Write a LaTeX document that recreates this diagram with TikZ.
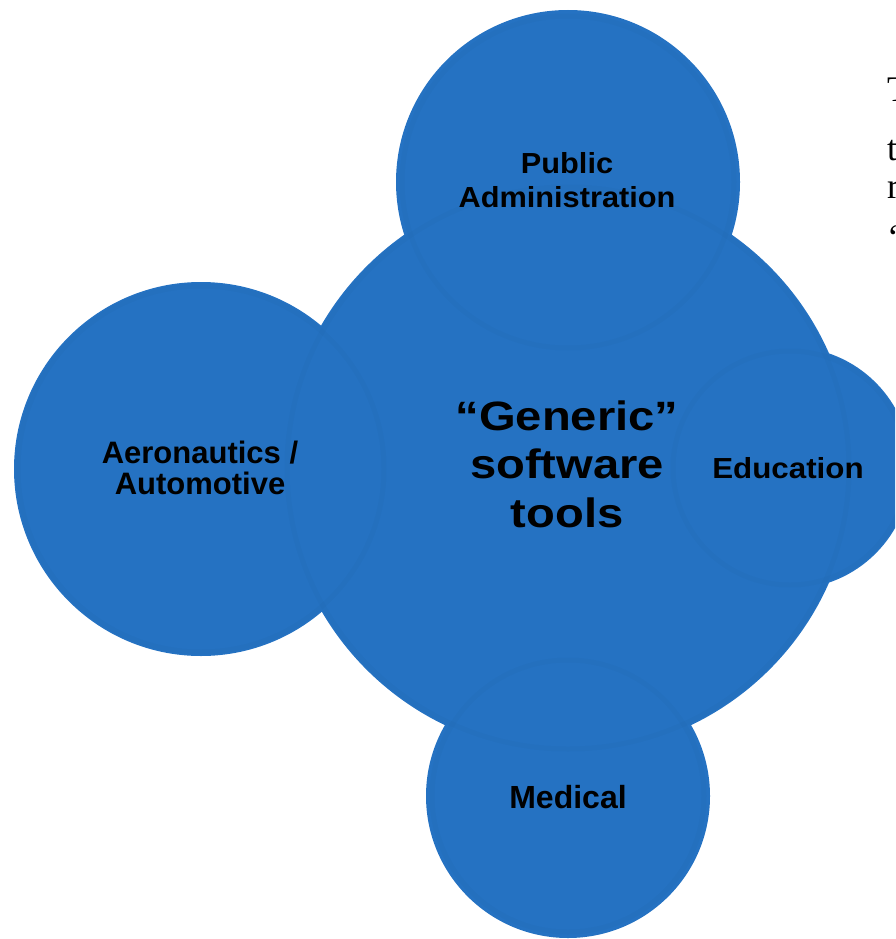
\documentclass[tikz,border=0pt]{standalone}
\usepackage{fontspec}
\setmainfont{Liberation Sans}
\newfontfamily\bodyserif{Liberation Serif}
\definecolor{bubble}{HTML}{2572C2}
\begin{document}
\begin{tikzpicture}[x=1pt,y=-1pt,
  bubble/.style={circle, fill=bubble, inner sep=0pt, minimum size=#1},
  label/.style={align=center, inner sep=0pt, text=black},
  softedge/.style={draw=black, draw opacity=0.014, line width=5pt},
  fragment/.style={anchor=base west, inner sep=0pt, font=\bodyserif\fontsize{36}{40}\selectfont}]
\useasboundingbox (0,0) rectangle (895,939);
\clip (0,0) rectangle (895,939);

% the five bubbles
\node[bubble=374pt] (aero) at (201,469) {};
\node[bubble=344pt] (public) at (568,182) {};
\node[bubble=284pt] (medical) at (568,796) {};
\node[bubble=570pt] (generic) at (568,468) {};
\node[bubble=242pt] (education) at (790,468) {};

% soft inner rims of the bubbles
\draw[softedge] (generic.center) circle (281);
\draw[softedge] (education.center) circle (117);
\draw[softedge] (medical.center) circle (136);
\draw[softedge] (public.center) circle (166);
\draw[softedge] (aero.center) circle (183);

% labels on top of all bubbles (shifts are in page points, upwards positive)
\node[label, font=\fontsize{31}{30.6}\selectfont\bfseries] (aerolabel) at ([xshift=-1pt,yshift=1pt]aero.center)
  {Aeronautics /\\Automotive};
\node[label, font=\fontsize{29}{34}\selectfont\bfseries\addfontfeatures{FakeStretch=1.06}] (publiclabel) at ([xshift=-1pt,yshift=2pt]public.center)
  {Public\\Administration};
\node[label, font=\fontsize{41}{48.5}\selectfont\bfseries\addfontfeatures{FakeStretch=1.15}] (genericlabel) at ([xshift=-1pt,yshift=4pt]generic.center)
  {“Generic”\\software\\tools};
\node[label, font=\fontsize{29}{33}\selectfont\bfseries\addfontfeatures{FakeStretch=1.08}] (educationlabel) at ([xshift=-2pt]education.center)
  {Education};
\node[label, font=\fontsize{32}{36}\selectfont\bfseries] (medicallabel) at ([yshift=-1pt]medical.center) {Medical};

% running text cut by the right margin
\node[fragment] (line1) at (887,102) {T};
\node[fragment] (line2) at (887,160) {t};
\node[fragment] (line3) at (887,198) {r};
\node[fragment] (line4) at (887,249) {‘};
\end{tikzpicture}
\end{document}
